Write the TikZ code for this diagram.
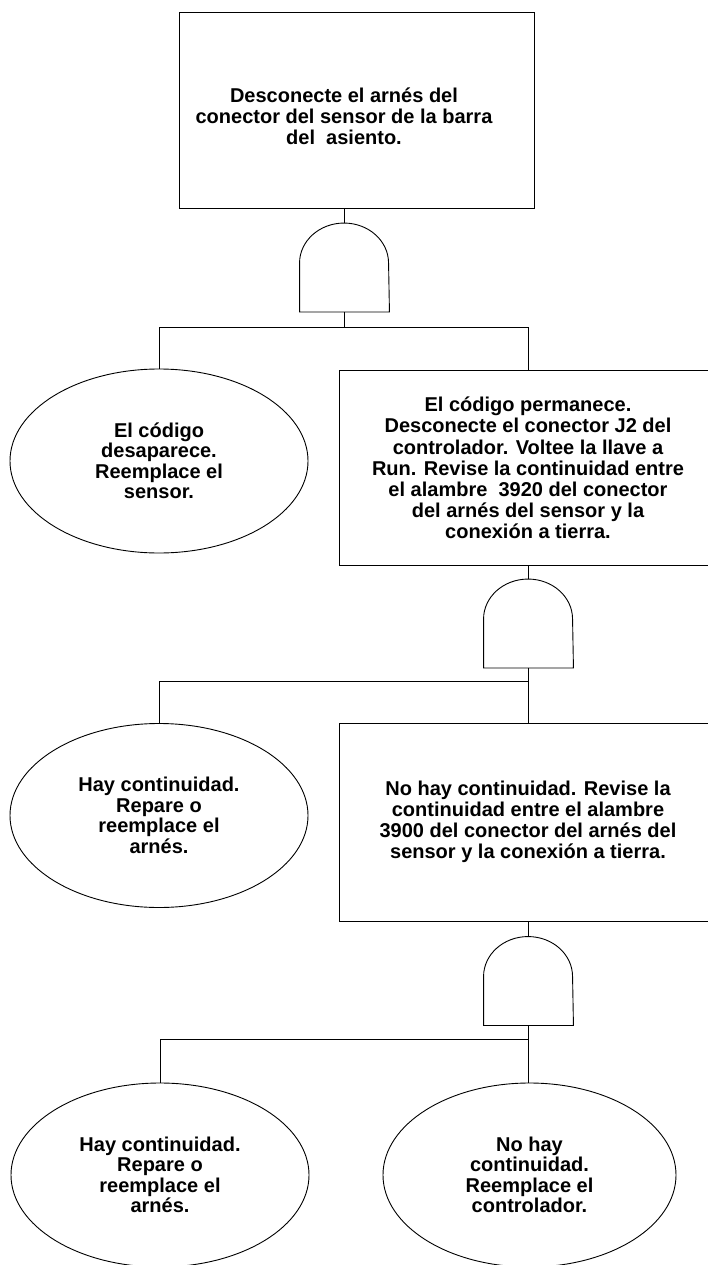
\documentclass[tikz,border=0pt]{standalone}
\usepackage{fontspec}
\setmainfont{Liberation Sans}
\usetikzlibrary{shapes.geometric}

% compuerta "Y" del diagrama
\newcommand{\compuerta}[1]{%
  \draw (#1.south west) -- ([yshift=-40pt]#1.north west)
    arc[start angle=180, end angle=0, x radius=44.5pt, y radius=40pt]
    -- (#1.south east) -- cycle;}

\tikzset{
  caja/.style={draw, rectangle, minimum height=196pt, inner sep=0pt, align=center},
  elipse/.style={draw, ellipse, minimum width=298pt, minimum height=184pt, inner sep=0pt, align=center,
    font=\bfseries\fontsize{20}{20.5}\selectfont},
  puerta/.style={rectangle, minimum width=89pt, minimum height=88pt, inner sep=0pt},
}

\begin{document}
\begin{tikzpicture}[x=1pt, y=-1pt, line width=0.9pt, font=\bfseries\fontsize{20}{21.2}\selectfont]
    \useasboundingbox (0,0) rectangle (708,1265);

    % Caja inicial
    \node[caja, minimum width=355pt] (inicio) at (356.5,110) {};
    \node[align=center, inner sep=0pt] (txtinicio) at (344,116) {Desconecte el arnés del\\conector del sensor de la barra\\del\ \ asiento.};
    \node[puerta] (p1) at (344.5,267.5) {};
    \compuerta{p1}

    % Primer nivel
    \coordinate (rama1) at (0,327);
    \node[elipse] (sensor) at (159,461) {El código\\desaparece.\\Reemplace el\\sensor.};
    \node[caja, minimum width=378pt, minimum height=195pt] (j2) at (528,468) {El código permanece.\\Desconecte el conector J2 del\\controlador. Voltee la llave a\\Run. Revise la continuidad entre\\el alambre\ \ 3920 del conector\\del arnés del sensor y la\\conexión a tierra.};
    \node[puerta] (p2) at (528.5,623.5) {};
    \compuerta{p2}

    % Segundo nivel
    \coordinate (rama2) at (0,681);
    \node[elipse] (arnes1) at (159,815.5) {Hay continuidad.\\Repare o\\reemplace el\\arnés.};
    \node[caja, minimum width=378pt, minimum height=198pt] (w3900) at (528,822) {No hay continuidad. Revise la\\continuidad entre el alambre\\3900 del conector del arnés del\\sensor y la conexión a tierra.};
    \node[puerta] (p3) at (528.5,981) {};
    \compuerta{p3}

    % Tercer nivel
    \coordinate (rama3) at (0,1039);
    \node[elipse] (arnes2) at (160,1175) {Hay continuidad.\\Repare o\\reemplace el\\arnés.};
    \node[elipse, minimum width=293pt] (ctrl) at (529.5,1175) {No hay\\continuidad.\\Reemplace el\\controlador.};

    % Conexiones
    \draw (p1.north) -- (p1.north |- inicio.south);
    \draw (p1.south) -- (p1.south |- rama1);
    \draw (sensor.north) |- (rama1 -| j2.north) -- (j2.north);
    \draw (j2.south -| p2.north) -- (p2.north);
    \draw (p2.south) -- (p2.south |- w3900.north);
    \draw (arnes1.north) |- (rama2 -| p2.south);
    \draw (w3900.south -| p3.north) -- (p3.north);
    \draw (p3.south) -- (p3.south |- ctrl.north);
    \draw (arnes2.north) |- (rama3 -| p3.south);

\end{tikzpicture}
\end{document}
